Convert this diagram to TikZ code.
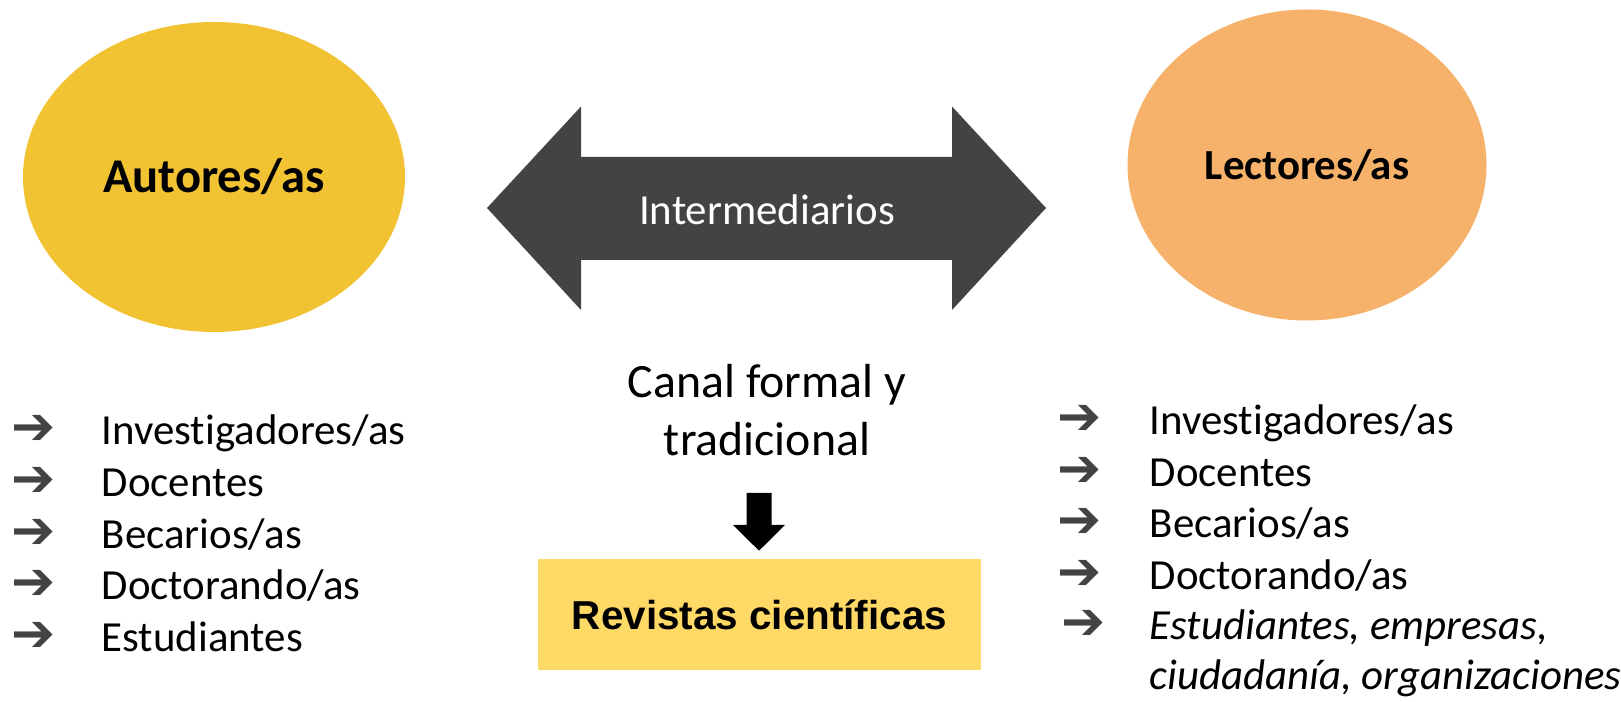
\documentclass[tikz,border=0pt]{standalone}
\usepackage{fontspec}
\setmainfont{Carlito}[Ligatures=NoCommon]
\newfontfamily\symbfont{DejaVu Sans}
\newfontfamily\boxfont{Liberation Sans}
\usetikzlibrary{shapes.geometric}
\definecolor{autorcol}{HTML}{F1C232}
\definecolor{lectorcol}{HTML}{F6B26B}
\definecolor{revcol}{HTML}{FFD966}
\definecolor{arrowcol}{HTML}{434343}

\begin{document}
\begin{tikzpicture}[x=0.1mm,y=-0.1mm,
  item/.style={anchor=base west,inner sep=0pt,font=\fontsize{12.2}{14}\selectfont},
  bullet/.style={anchor=base west,inner sep=0pt,text=arrowcol,font=\symbfont\bfseries\fontsize{15}{16}\selectfont}]
\useasboundingbox (0,0) rectangle (1621,702);

% the two groups
\node[ellipse,fill=autorcol,minimum width=38.2mm,minimum height=31mm,inner sep=0pt,
  font=\bfseries\fontsize{13.8}{16}\selectfont] (autores) at (214,177) {Autores/as};
\node[ellipse,fill=lectorcol,minimum width=35.9mm,minimum height=31.1mm,inner sep=0pt,
  font=\bfseries\fontsize{12.2}{15}\selectfont] (lectores) at (1307,165) {Lectores/as};

% double arrow in the middle
\fill[arrowcol] (487,208) -- (581,106.5) -- (581,157) -- (952,157) -- (952,106.5)
  -- (1046,208) -- (952,310) -- (952,260) -- (581,260) -- (581,310) -- cycle;
\node[anchor=base,inner sep=0pt,text=white,font=\fontsize{12.2}{14}\selectfont] (inter) at (767,225) {Intermediarios};

\node[align=center,inner sep=0pt,font=\fontsize{13.6}{16.6}\selectfont] (canal) at (767,410) {Canal formal y\\tradicional};
\fill (746.7,493) -- (771.7,493) -- (771.7,525) -- (785,525) -- (759,550.7) -- (733,525) -- (746.7,525) -- cycle;
\node[fill=revcol,minimum width=44.3mm,minimum height=11.1mm,inner sep=0pt,
  font=\boxfont\bfseries\fontsize{11.5}{14}\selectfont] (revistas) at (759.5,614.5) {Revistas científicas};

% authors
\node[bullet] (a1) at (11,445) {➔};
\node[item] (autor1) at (101,445) {Investigadores/as};
\node[bullet] (a2) at (11,497) {➔};
\node[item] (autor2) at (101,497) {Docentes};
\node[bullet] (a3) at (11,548.5) {➔};
\node[item] (autor3) at (101,548.5) {Becarios/as};
\node[bullet] (a4) at (11,600) {➔};
\node[item] (autor4) at (101,600) {Doctorando/as};
\node[bullet] (a5) at (11,651.5) {➔};
\node[item] (autor5) at (101,651.5) {Estudiantes};

% readers
\node[bullet] (b1) at (1057,435) {➔};
\node[item] (lector1) at (1149,435) {Investigadores/as};
\node[bullet] (b2) at (1057,486.5) {➔};
\node[item] (lector2) at (1149,486.5) {Docentes};
\node[bullet] (b3) at (1057,538) {➔};
\node[item] (lector3) at (1149,538) {Becarios/as};
\node[bullet] (b4) at (1057,589.5) {➔};
\node[item] (lector4) at (1149,589.5) {Doctorando/as};
\node[bullet] (b5) at (1061,640) {➔};
\node[item,font=\itshape\fontsize{12.2}{14}\selectfont] (lector5) at (1149,640) {Estudiantes, empresas,};
\node[item,font=\itshape\fontsize{12.2}{14}\selectfont] (lector6) at (1149,690) {ciudadanía, organizaciones};
\end{tikzpicture}
\end{document}
